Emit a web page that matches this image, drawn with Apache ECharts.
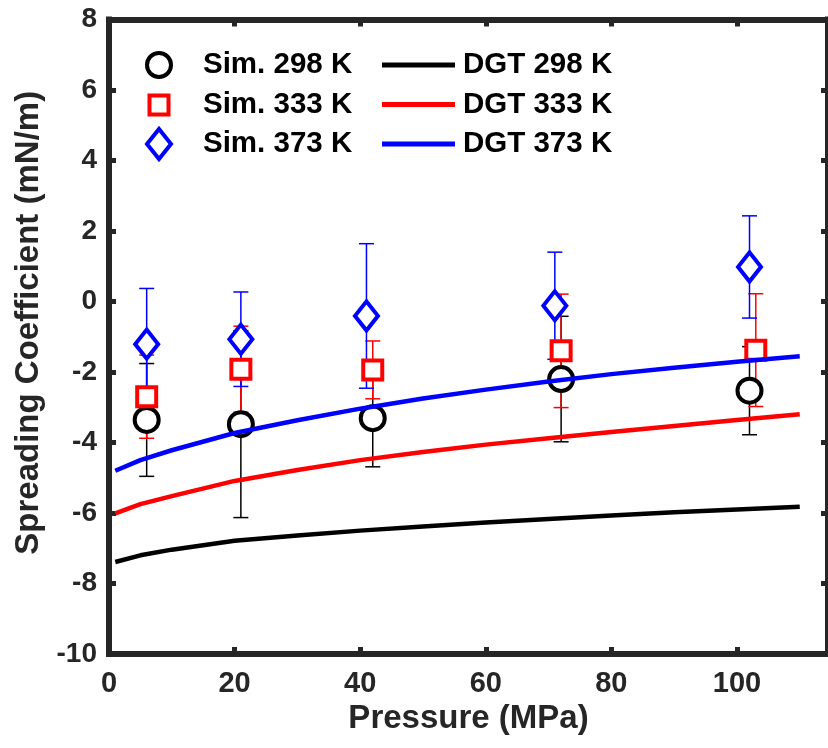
<!DOCTYPE html>
<html>
<head>
<meta charset="utf-8">
<script src="https://cdn.jsdelivr.net/npm/echarts@6/dist/echarts.min.js"></script>
<style>
html,body{margin:0;padding:0;background:#fff;}
#chart{width:828px;height:748px;}
</style>
</head>
<body>
<div id="chart"></div>
<script>
// ---- data ----
var sim298X = [6, 21, 42, 72, 102];
var sim298Y = [-3.36, -3.48, -3.31, -2.20, -2.53];
var sim298Err = [1.60, 2.65, 1.38, 1.78, 1.25];

var sim333X = [6, 21, 42, 72, 103];
var sim333Y = [-2.70, -1.92, -1.94, -1.40, -1.38];
var sim333Err = [1.18, 1.22, 0.82, 1.61, 1.60];

var sim373X = [6, 21, 41, 71, 102];
var sim373Y = [-1.21, -1.07, -0.41, -0.12, 0.98];
var sim373Err = [1.58, 1.34, 2.05, 1.52, 1.45];

var dgtX = [1, 5, 10, 20, 30, 40, 50, 60, 70, 80, 90, 100, 110];
var dgt298 = [-7.39, -7.20, -7.04, -6.79, -6.64, -6.50, -6.38, -6.27, -6.17, -6.07, -5.98, -5.90, -5.82];
var dgt333 = [-6.01, -5.75, -5.52, -5.09, -4.78, -4.50, -4.27, -4.06, -3.88, -3.70, -3.53, -3.36, -3.20];
var dgt373 = [-4.80, -4.50, -4.22, -3.73, -3.37, -3.04, -2.75, -2.50, -2.27, -2.06, -1.88, -1.71, -1.55];

var xTicks = [0, 20, 40, 60, 80, 100];
var yTicks = [-10, -8, -6, -4, -2, 0, 2, 4, 6, 8];

var simNames = ['Sim. 298 K', 'Sim. 333 K', 'Sim. 373 K'];
var dgtNames = ['DGT 298 K', 'DGT 333 K', 'DGT 373 K'];

// ---- helpers ----
function zip2(a, b) { return a.map(function (v, i) { return [v, b[i]]; }); }
function zip3(a, b, c) { return a.map(function (v, i) { return [v, b[i], c[i]]; }); }

var FONT = "'Liberation Sans', Arial, sans-serif";
var AX = '#262626';

function errSeries(name, xs, ys, es, color) {
  return {
    type: 'custom',
    name: name + ' err',
    data: zip3(xs, ys, es),
    renderItem: function (params, api) {
      var x = api.value(0), y = api.value(1), e = api.value(2);
      var t = api.coord([x, y + e]);
      var b = api.coord([x, y - e]);
      var hw = 7.5;
      var st = { stroke: color, lineWidth: 1.5 };
      return {
        type: 'group',
        children: [
          { type: 'line', shape: { x1: t[0], y1: t[1], x2: b[0], y2: b[1] }, style: st },
          { type: 'line', shape: { x1: t[0] - hw, y1: t[1], x2: t[0] + hw, y2: t[1] }, style: st },
          { type: 'line', shape: { x1: b[0] - hw, y1: b[1], x2: b[0] + hw, y2: b[1] }, style: st }
        ]
      };
    },
    silent: true
  };
}

function simSeries(name, xs, ys, symbol, size, color) {
  return {
    type: 'scatter',
    name: name,
    data: zip2(xs, ys),
    symbol: symbol,
    symbolSize: size,
    itemStyle: { color: '#ffffff', borderColor: color, borderWidth: 4, opacity: 1 },
    silent: true
  };
}

function dgtSeries(name, ys, color) {
  return {
    type: 'line',
    name: name,
    data: zip2(dgtX, ys),
    symbol: 'none',
    showSymbol: false,
    smooth: false,
    lineStyle: { color: color, width: 4.5 },
    itemStyle: { color: color },
    silent: true
  };
}

var legendText = { fontFamily: FONT, fontWeight: 'bold', fontSize: 29.5, color: '#000', lineHeight: 36 };

function simLegend(name, top, left, w, h, pad, color, icon) {
  return {
    data: [name],
    orient: 'vertical',
    left: left,
    top: top,
    padding: 0,
    itemWidth: w,
    itemHeight: h,
    icon: icon,
    selectedMode: false,
    itemStyle: { color: '#ffffff', borderColor: color, borderWidth: 4 },
    textStyle: Object.assign({}, legendText, { padding: [0, 0, 0, pad] })
  };
}

var axisLineStyle = { color: AX, width: 6, cap: 'square' };
var tickStyle = { color: AX, width: 5 };

var option = {
  animation: false,
  backgroundColor: '#ffffff',
  grid: { left: 109, top: 19.5, width: 723.6, height: 634.5, containLabel: false },
  legend: [
    simLegend(simNames[0], 65 - 18, 145, 24, 24, 27, '#000000', 'circle'),
    simLegend(simNames[1], 105 - 18, 147.5, 19, 19, 29.5, '#ff0000', 'rect'),
    simLegend(simNames[2], 144 - 18, 145, 24, 30, 27, '#0000ff', 'diamond'),
    {
      data: dgtNames,
      orient: 'vertical',
      left: 382,
      top: 65 - 18,
      padding: 0,
      itemGap: 3.5,
      itemWidth: 73,
      itemHeight: 5,
      icon: 'rect',
      selectedMode: false,
      itemStyle: { borderWidth: 0 },
      lineStyle: { width: 4.5 },
      textStyle: Object.assign({}, legendText, { padding: [0, 0, 0, 3] })
    }
  ],
  xAxis: [
    {
      type: 'value', min: 0, max: 114.5, interval: 20, position: 'bottom',
      name: 'Pressure (MPa)', nameLocation: 'middle', nameGap: 45,
      nameTextStyle: { fontFamily: FONT, fontWeight: 'bold', fontSize: 33, color: AX },
      axisLine: { show: true, onZero: false, lineStyle: axisLineStyle },
      axisTick: { show: true, inside: true, length: 7, lineStyle: tickStyle },
      axisLabel: {
        show: true, margin: 15, fontFamily: FONT, fontWeight: 'bold', fontSize: 29, color: AX,
        showMaxLabel: false,
        formatter: function (v) { return xTicks.indexOf(v) >= 0 ? String(v) : ''; }
      },
      splitLine: { show: false }
    },
    {
      type: 'value', min: 0, max: 114.5, interval: 20, position: 'top',
      axisLine: { show: true, onZero: false, lineStyle: axisLineStyle },
      axisTick: { show: true, inside: true, length: 7, lineStyle: tickStyle },
      axisLabel: { show: false },
      splitLine: { show: false }
    }
  ],
  yAxis: [
    {
      type: 'value', min: -10, max: 8, interval: 2, position: 'left',
      name: 'Spreading Coefficient (mN/m)', nameLocation: 'middle', nameGap: 63,
      nameTextStyle: { fontFamily: FONT, fontWeight: 'bold', fontSize: 33, color: AX, padding: [0, 0, 0, 28] },
      axisLine: { show: true, onZero: false, lineStyle: axisLineStyle },
      axisTick: { show: true, inside: true, length: 7, lineStyle: tickStyle },
      axisLabel: {
        show: true, margin: 12, fontFamily: FONT, fontWeight: 'bold', fontSize: 28, color: AX,
        formatter: function (v) { return yTicks.indexOf(v) >= 0 ? String(v) : ''; }
      },
      splitLine: { show: false }
    },
    {
      type: 'value', min: -10, max: 8, interval: 2, position: 'right',
      axisLine: { show: true, onZero: false, lineStyle: axisLineStyle },
      axisTick: { show: true, inside: true, length: 7, lineStyle: tickStyle },
      axisLabel: { show: false },
      splitLine: { show: false }
    }
  ],
  series: [
    dgtSeries(dgtNames[0], dgt298, '#000000'),
    dgtSeries(dgtNames[1], dgt333, '#ff0000'),
    dgtSeries(dgtNames[2], dgt373, '#0000ff'),
    errSeries(simNames[0], sim298X, sim298Y, sim298Err, '#000000'),
    simSeries(simNames[0], sim298X, sim298Y, 'circle', 24, '#000000'),
    errSeries(simNames[1], sim333X, sim333Y, sim333Err, '#ff0000'),
    simSeries(simNames[1], sim333X, sim333Y, 'rect', 19, '#ff0000'),
    errSeries(simNames[2], sim373X, sim373Y, sim373Err, '#0000ff'),
    simSeries(simNames[2], sim373X, sim373Y, 'diamond', [23, 29], '#0000ff')
  ]
};

var chart = echarts.init(document.getElementById('chart'), null, { renderer: 'canvas' });
chart.setOption(option);
</script>
</body>
</html>
